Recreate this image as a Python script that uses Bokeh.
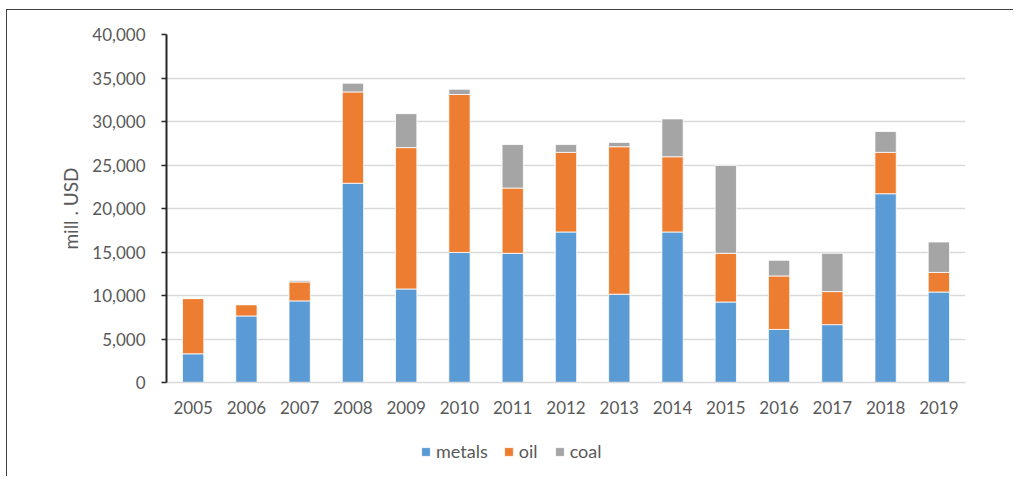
from bokeh.plotting import figure
from bokeh.layouts import column
from bokeh.models import (FactorRange, Range1d, FixedTicker, NumeralTickFormatter, Legend, LegendItem)
from bokeh.embed import file_html
from bokeh.resources import INLINE

years = ["2005", "2006", "2007", "2008", "2009", "2010", "2011", "2012",
         "2013", "2014", "2015", "2016", "2017", "2018", "2019"]
metals = [3300, 7650, 9380, 22900, 10750, 14950, 14850, 17300, 10150, 17300, 9250, 6100, 6650, 21700, 10400]
oil = [6350, 1300, 2180, 10500, 16250, 18150, 7500, 9150, 16950, 8650, 5600, 6150, 3800, 4750, 2250]
coal = [0, 0, 150, 1000, 3900, 600, 5000, 900, 500, 4350, 10100, 1800, 4400, 2400, 3500]
series = ["metals", "oil", "coal"]
colors = ["#5B9BD5", "#ED7D31", "#A5A5A5"]
y_ticks = [0, 5000, 10000, 15000, 20000, 25000, 30000, 35000, 40000]
y_title = "mill . USD"

FONT = "Lato"
TXT = "#595959"
OX, OY = 7, 10          # offset of the chart box inside the page
W = 1014 - OX
H1 = 422
H2 = 477 - OY - H1

p = figure(width=W, height=H1, output_backend="svg", toolbar_location=None,
           x_range=FactorRange(*years, range_padding=0), y_range=Range1d(0, 40000),
           min_border_left=166 - OX, min_border_right=49, min_border_top=34 - OY,
           min_border_bottom=H1 - (382 - OY))

src = dict(years=years, metals=metals, oil=oil, coal=coal)
rs = p.vbar_stack(series, x="years", width=0.4, source=src, color=colors,
                  line_color="white", line_width=0.8)

p.outline_line_color = None
p.background_fill_color = "white"
p.border_fill_color = "white"

p.xgrid.grid_line_color = None
p.ygrid.grid_line_color = "#D9D9D9"
p.ygrid.grid_line_width = 1.5
p.ygrid.ticker = FixedTicker(ticks=y_ticks)

ya = p.yaxis[0]
ya.ticker = FixedTicker(ticks=y_ticks)
ya.formatter = NumeralTickFormatter(format="0,0")
ya.axis_line_color = "#262626"
ya.axis_line_width = 2
ya.major_tick_line_color = "#262626"
ya.major_tick_line_width = 1.5
ya.major_tick_out = 5
ya.major_tick_in = 0
ya.minor_tick_line_color = None
ya.major_label_text_font = FONT
ya.major_label_text_font_size = "17px"
ya.major_label_text_color = TXT
ya.major_label_standoff = 16
ya.axis_label = y_title
ya.axis_label_text_font = FONT
ya.axis_label_text_font_size = "19px"
ya.axis_label_text_font_style = "normal"
ya.axis_label_text_color = TXT
ya.axis_label_standoff = 7

xa = p.xaxis[0]
xa.axis_line_color = "#D9D9D9"
xa.axis_line_width = 1.5
xa.major_tick_line_color = None
xa.minor_tick_line_color = None
xa.major_label_text_font = FONT
xa.major_label_text_font_size = "17px"
xa.major_label_text_color = TXT
xa.major_label_standoff = 12

# legend strip below the chart
p2 = figure(width=W, height=H2, output_backend="svg", toolbar_location=None,
            x_axis_type=None, y_axis_type=None, x_range=Range1d(0, 1), y_range=Range1d(0, 1),
            min_border=0, outline_line_color=None)
p2.grid.visible = False
p2.border_fill_color = "white"
dummies = [p2.vbar(x=[-10], top=[-10], bottom=[-11], width=0.1, fill_color=c,
                   line_color="white", line_width=0.8)
           for c in colors]
legend = Legend(items=[LegendItem(label=s, renderers=[r]) for s, r in zip(series, dummies)],
                orientation="horizontal", location=(420 - 166, 15),
                glyph_width=11, glyph_height=11, label_height=11, label_standoff=5,
                spacing=15, padding=0, margin=0,
                border_line_color=None, background_fill_alpha=0,
                label_text_font=FONT, label_text_font_size="18px", label_text_color=TXT)
p2.add_layout(legend, "center")

layout = column(p, p2, spacing=0)
layout.styles = {"margin-left": f"{OX}px", "margin-top": f"{OY}px",
                 "box-shadow": "-1px -1px 0 0 #404040"}
open("out.html", "w").write(file_html(layout, INLINE))
